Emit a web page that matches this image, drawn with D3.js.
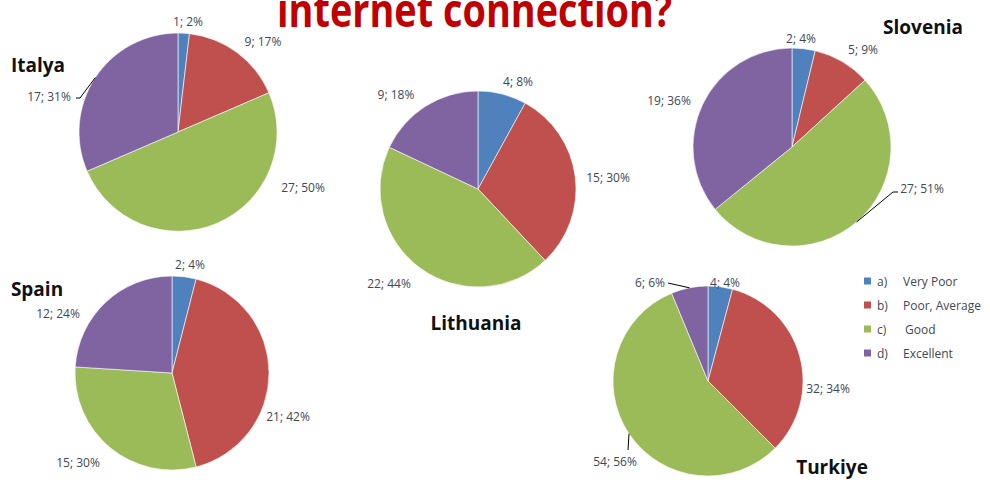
<!DOCTYPE html>
<html>
<head>
<meta charset="utf-8">
<script src="https://cdn.jsdelivr.net/npm/d3@7"></script>
<style>
  body { margin: 0; background: #fff; }
</style>
</head>
<body>
<div id="chart"></div>
<script>
// Data
const categoryCodes = ["a)", "b)", "c)", "d)"];
const categoryNames = ["Very Poor", "Poor, Average", "Good", "Excellent"];
const countries = ["Italya", "Lithuania", "Slovenia", "Spain", "Turkiye"];

const italyaValues    = [1, 9, 27, 17];
const lithuaniaValues = [4, 15, 22, 9];
const sloveniaValues  = [2, 5, 27, 19];
const spainValues     = [2, 21, 15, 12];
const turkiyeValues   = [4, 32, 54, 6];

const italyaPct    = [2, 17, 50, 31];
const lithuaniaPct = [8, 30, 44, 18];
const sloveniaPct  = [4, 9, 51, 36];
const spainPct     = [4, 42, 30, 24];
const turkiyePct   = [4, 34, 56, 6];

const values = [italyaValues, lithuaniaValues, sloveniaValues, spainValues, turkiyeValues];
const pcts = [italyaPct, lithuaniaPct, sloveniaPct, spainPct, turkiyePct];

const colors = ["#4f81bd", "#c0504d", "#9bbb59", "#8064a2"];

// Layout of each pie (centre, radius, title, label offsets from centre, leader elbows)
const layout = [
  { cx: 178, cy: 132, r: 99, title: [38, 65],
    labels: [[10, -111], [85, -91], [125, 55], [-129, -36]],
    leaders: { 3: [[-98, -34], [-102, -34]] } },
  { cx: 478, cy: 189, r: 98, title: [476, 323],
    labels: [[40, -108], [130, -12], [-89, 94], [-82, -95]],
    leaders: {} },
  { cx: 792, cy: 147, r: 99, title: [923, 27],
    labels: [[9, -109], [71, -98], [130, 41], [-123, -47]],
    leaders: { 2: [[101, 45], [106, 45]] } },
  { cx: 172, cy: 373, r: 97, title: [37, 289],
    labels: [[18, -109], [116, 43], [-94, 89], [-114, -60]],
    leaders: {} },
  { cx: 708, cy: 381, r: 95, title: [832, 467],
    labels: [[17, -99], [120, 7], [-93, 80], [-58, -99]],
    leaders: { 2: [[-80, 69]], 3: [[-40, -98]] } }
];

const width = 990, height = 480;
const font = "'Open Sans', 'DejaVu Sans', sans-serif";

const svg = d3.select("#chart")
  .append("svg")
    .attr("width", width)
    .attr("height", height)
    .style("font-family", font);

// Title (cut at the top, as in the slide)
svg.append("text")
    .attr("x", 277)
    .attr("y", 27)
    .attr("textLength", 395)
    .attr("lengthAdjust", "spacingAndGlyphs")
    .style("font-size", "46px")
    .style("font-weight", "bold")
    .style("fill", "#c00000")
    .text("internet connection?");

const pie = d3.pie().sort(null).value(d => d);

countries.forEach((name, i) => {
  const L = layout[i];
  const arcs = pie(values[i]);
  const arc = d3.arc().innerRadius(0).outerRadius(L.r);
  const edge = d3.arc().innerRadius(L.r).outerRadius(L.r);

  const g = svg.append("g")
      .attr("transform", `translate(${L.cx},${L.cy})`);

  g.selectAll("path")
    .data(arcs)
    .enter()
    .append("path")
      .attr("d", arc)
      .attr("fill", (d, j) => colors[j])
      .attr("stroke", "#fff")
      .attr("stroke-width", 0.6);

  // Leader lines
  arcs.forEach((d, j) => {
    if (!L.leaders[j]) return;
    const pts = [edge.centroid(d)].concat(L.leaders[j]);
    g.append("path")
        .attr("d", d3.line()(pts))
        .attr("fill", "none")
        .attr("stroke", "#000")
        .attr("stroke-width", 1);
  });

  // Data labels
  g.selectAll("text.lbl")
    .data(arcs)
    .enter()
    .append("text")
      .attr("class", "lbl")
      .attr("x", (d, j) => L.labels[j][0])
      .attr("y", (d, j) => L.labels[j][1])
      .attr("text-anchor", "middle")
      .attr("dominant-baseline", "central")
      .style("font-size", "12px")
      .style("fill", "#404858")
      .text((d, j) => `${values[i][j]}; ${pcts[i][j]}%`);

  // Country name
  svg.append("text")
      .attr("x", L.title[0])
      .attr("y", L.title[1])
      .attr("text-anchor", "middle")
      .attr("dominant-baseline", "central")
      .style("font-size", "19px")
      .style("font-weight", "bold")
      .style("fill", "#111")
      .text(name);
});

// Legend
const legend = svg.append("g")
    .attr("transform", "translate(864,281)");

const rows = legend.selectAll("g")
  .data(categoryCodes)
  .enter()
  .append("g")
    .attr("transform", (d, j) => `translate(0,${j * 24})`);

rows.append("rect")
    .attr("x", 0)
    .attr("y", -3.5)
    .attr("width", 7)
    .attr("height", 7)
    .attr("fill", (d, j) => colors[j]);

rows.append("text")
    .attr("x", 13)
    .attr("y", 0)
    .attr("dominant-baseline", "central")
    .style("font-size", "12px")
    .style("fill", "#404858")
    .text(d => d);

rows.append("text")
    .attr("x", (d, j) => j === 2 ? 41 : 39)
    .attr("y", 0)
    .attr("dominant-baseline", "central")
    .style("font-size", "12px")
    .style("fill", "#404858")
    .text((d, j) => categoryNames[j]);
</script>
</body>
</html>
